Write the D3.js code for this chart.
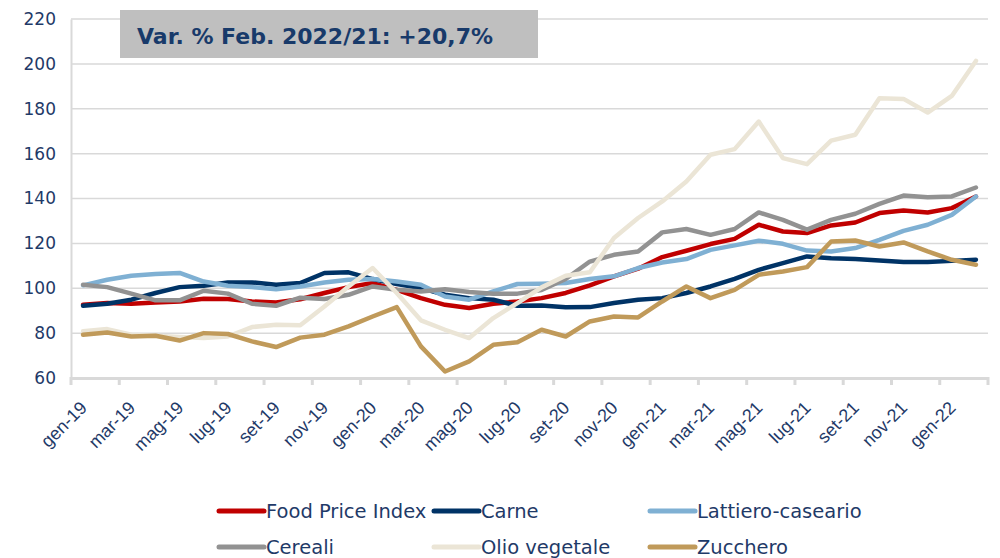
<!DOCTYPE html>
<html>
<head>
<meta charset="utf-8">
<script src="https://cdn.jsdelivr.net/npm/d3@7"></script>
<style>
  body { margin: 0; background: #fff; }
  svg { display: block; font-family: "DejaVu Sans", sans-serif; }
</style>
</head>
<body>
<div id="chart"></div>
<script>
// mesi gen-19 .. feb-22
var months = ["gen-19","feb-19","mar-19","apr-19","mag-19","giu-19","lug-19","ago-19","set-19","ott-19","nov-19","dic-19",
  "gen-20","feb-20","mar-20","apr-20","mag-20","giu-20","lug-20","ago-20","set-20","ott-20","nov-20","dic-20",
  "gen-21","feb-21","mar-21","apr-21","mag-21","giu-21","lug-21","ago-21","set-21","ott-21","nov-21","dic-21",
  "gen-22","feb-22"];

var foodPriceIndex = [92.7,93.4,93.1,93.7,94.1,95.3,95.2,94.1,93.7,95.1,97.9,100.5,
  102.3,99.3,95.6,92.6,91.2,93.1,94.1,95.6,97.9,101.3,105.3,108.7,
  113.9,116.7,119.7,122.0,128.3,125.3,124.6,128.0,129.3,133.5,134.7,133.8,135.7,140.9];
var carne = [92.2,93.1,94.9,97.9,100.5,101.1,102.6,102.6,101.6,102.3,106.8,107.1,
  104.1,101.9,100.1,97.1,95.6,94.9,92.2,92.3,91.5,91.6,93.4,94.9,
  95.6,97.9,100.8,104.2,108.2,111.2,114.2,113.4,113.0,112.4,111.7,111.7,112.2,112.7];
var lattiero = [101.3,103.8,105.6,106.3,106.8,103.0,101.1,100.5,99.6,100.8,102.6,103.8,
  104.1,103.0,101.6,96.3,94.9,98.6,101.9,102.0,102.3,104.1,105.3,109.0,
  111.5,113.0,117.1,119.1,121.2,119.8,116.8,116.4,117.9,121.6,125.6,128.3,132.7,140.9];
var cereali = [101.6,100.5,97.6,94.6,94.6,98.9,97.6,93.1,92.2,95.8,95.2,97.1,
  100.8,99.3,98.6,99.6,98.3,97.6,97.6,99.2,104.1,111.9,114.9,116.4,
  124.9,126.4,123.8,126.4,133.8,130.5,126.1,130.5,133.2,137.6,141.3,140.6,140.9,144.9];
var olio = [80.8,81.8,79.3,78.8,78.3,77.8,78.5,82.7,83.7,83.5,91.9,100.8,
  109.0,97.9,85.7,81.5,77.8,86.7,93.4,100.4,105.6,107.1,122.4,131.3,
  138.7,147.6,159.5,162.0,174.3,158.0,155.3,165.8,168.4,184.7,184.4,178.3,185.7,201.3];
var zucchero = [79.3,80.3,78.5,78.8,76.7,80.0,79.6,76.3,73.8,78.0,79.3,83.0,
  87.4,91.6,74.1,62.9,67.4,74.8,75.9,81.5,78.5,85.2,87.4,87.0,
  94.1,100.8,95.6,99.3,106.0,107.5,109.4,120.8,121.3,118.6,120.4,116.4,112.7,110.5];

var seriesNames = ["Food Price Index","Carne","Lattiero-caseario","Cereali","Olio vegetale","Zucchero"];
var seriesValues = [foodPriceIndex, carne, lattiero, cereali, olio, zucchero];
var seriesColors = ["#c00000","#003366","#7fb0d3","#929292","#ebe5d6","#c09a5a"];
var yTicks = [60,80,100,120,140,160,180,200,220];
var titleText = "Var. % Feb. 2022/21: +20,7%";

var width = 1000, height = 558;
var margin = { top: 19, right: 12, bottom: 180, left: 71 };
var navy = "#1f3a68";

var svg = d3.select("#chart").append("svg")
  .attr("width", width)
  .attr("height", height);

var x = d3.scaleBand()
  .domain(months)
  .range([margin.left, width - margin.right]);

var y = d3.scaleLinear()
  .domain([60, 220])
  .range([height - margin.bottom, margin.top]);

// griglia
svg.append("g")
  .selectAll("line")
  .data(yTicks.filter(d => d > 60))
  .enter().append("line")
  .attr("x1", margin.left)
  .attr("x2", width - margin.right)
  .attr("y1", d => y(d))
  .attr("y2", d => y(d))
  .attr("stroke", "#d9d9d9")
  .attr("stroke-width", 1.5);

// asse y
var yAxis = svg.append("g")
  .attr("transform", `translate(${margin.left},0)`)
  .call(d3.axisLeft(y).tickValues(yTicks).tickSize(0).tickPadding(15));
yAxis.select(".domain").attr("stroke", "#d9d9d9").attr("stroke-width", 2);
yAxis.selectAll("text")
  .attr("fill", navy)
  .style("font-size", "17px")
  .style("font-family", "DejaVu Sans, sans-serif");

// asse x
var xAxis = svg.append("g")
  .attr("transform", `translate(0,${y(60)})`)
  .call(d3.axisBottom(x).tickValues([]).tickSizeOuter(0));
xAxis.select(".domain").attr("stroke", "#d9d9d9").attr("stroke-width", 3);

var tickMonths = months.filter((d, i) => i % 2 == 0).concat([null]);
xAxis.selectAll(".tk")
  .data(tickMonths)
  .enter().append("line")
  .attr("class", "tk")
  .attr("x1", d => d ? x(d) : x.range()[1])
  .attr("x2", d => d ? x(d) : x.range()[1])
  .attr("y1", -1)
  .attr("y2", 7)
  .attr("stroke", "#d9d9d9")
  .attr("stroke-width", 3);

xAxis.selectAll(".lbl")
  .data(months.filter((d, i) => i % 2 == 0))
  .enter().append("text")
  .attr("class", "lbl")
  .attr("transform", d => `translate(${x(d) + x.bandwidth() / 2 - 4},22) rotate(-45)`)
  .attr("text-anchor", "end")
  .attr("dy", "0.7em")
  .attr("fill", navy)
  .style("font-size", "18px")
  .text(d => d);

// linee
var line = d3.line()
  .x((d, i) => x(months[i]) + x.bandwidth() / 2)
  .y(d => y(d));

svg.append("g")
  .selectAll("path")
  .data(seriesValues)
  .enter().append("path")
  .attr("d", d => line(d))
  .attr("fill", "none")
  .attr("stroke", (d, i) => seriesColors[i])
  .attr("stroke-width", 4.5)
  .attr("stroke-linejoin", "round")
  .attr("stroke-linecap", "round");

// riquadro titolo
svg.append("rect")
  .attr("x", 120)
  .attr("y", 10)
  .attr("width", 418)
  .attr("height", 48)
  .attr("fill", "#bfbfbf");
svg.append("text")
  .attr("x", 137)
  .attr("y", 44)
  .attr("fill", "#183a6a")
  .style("font-size", "22px")
  .style("font-weight", "bold")
  .text(titleText);

// legenda
var legendX = [219, 434, 650];
var legendY = [511, 547];
var leg = svg.append("g")
  .selectAll("g")
  .data(seriesNames)
  .enter().append("g")
  .attr("transform", (d, i) => `translate(${legendX[i % 3]},${legendY[Math.floor(i / 3)]})`);
leg.append("line")
  .attr("x1", 0)
  .attr("x2", 45)
  .attr("stroke", (d, i) => seriesColors[i])
  .attr("stroke-width", 5)
  .attr("stroke-linecap", "round");
leg.append("text")
  .attr("x", 47)
  .attr("dy", "0.35em")
  .attr("fill", navy)
  .style("font-size", "19.5px")
  .text(d => d);
</script>
</body>
</html>
